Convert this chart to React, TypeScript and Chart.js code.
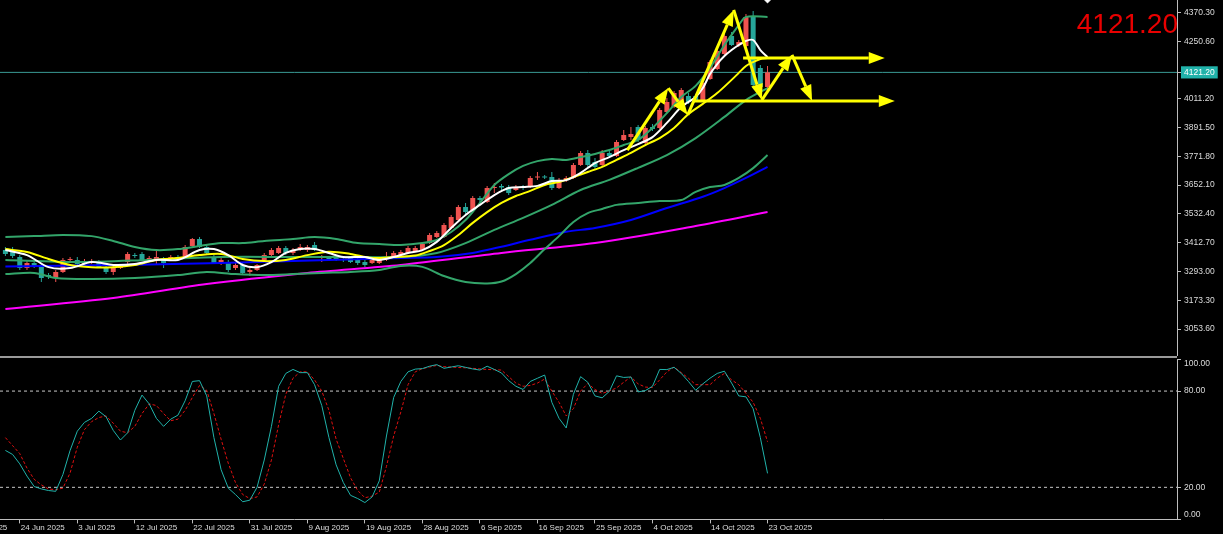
import React, { useEffect, useRef } from 'react';
import { Chart, registerables } from 'chart.js';

Chart.register(...registerables);

// ---------- DATA ----------
// candles: [open, high, low, close], one per bar (bar index = array index)
const ohlc: number[][] = [
  [3382.3, 3394.8, 3357.3, 3365.7], [3374.0, 3394.8, 3349.0, 3357.3], [3353.2, 3361.5, 3299.1, 3307.4],
  [3307.4, 3336.5, 3299.1, 3328.2], [3328.2, 3336.5, 3307.4, 3315.7], [3319.9, 3328.2, 3249.2, 3265.8],
  [3278.3, 3286.6, 3261.7, 3270.0], [3265.8, 3299.1, 3249.2, 3290.8], [3290.8, 3349.0, 3286.6, 3340.7],
  [3340.7, 3353.2, 3332.4, 3344.9], [3340.7, 3353.2, 3319.9, 3324.1], [3324.1, 3344.9, 3315.7, 3336.5],
  [3332.4, 3344.9, 3324.1, 3336.5], [3332.4, 3340.7, 3307.4, 3311.6], [3311.6, 3315.7, 3282.5, 3290.8],
  [3290.8, 3315.7, 3278.3, 3307.4], [3307.4, 3324.1, 3303.3, 3315.7], [3332.4, 3374.0, 3324.1, 3365.7],
  [3361.5, 3369.8, 3349.0, 3357.3], [3365.7, 3374.0, 3336.5, 3340.7], [3340.7, 3357.3, 3336.5, 3349.0],
  [3344.9, 3378.1, 3319.9, 3353.2], [3340.7, 3353.2, 3307.4, 3328.2], [3340.7, 3361.5, 3336.5, 3353.2],
  [3353.2, 3361.5, 3340.7, 3344.9], [3353.2, 3403.1, 3349.0, 3394.8], [3398.9, 3432.2, 3394.8, 3428.1],
  [3428.1, 3436.4, 3390.6, 3394.8], [3394.8, 3403.1, 3361.5, 3369.8], [3353.2, 3361.5, 3324.1, 3328.2],
  [3328.2, 3349.0, 3319.9, 3340.7], [3332.4, 3340.7, 3290.8, 3299.1], [3307.4, 3328.2, 3299.1, 3319.9],
  [3319.9, 3328.2, 3278.3, 3286.6], [3290.8, 3307.4, 3274.1, 3299.1], [3299.1, 3324.1, 3294.9, 3319.9],
  [3340.7, 3369.8, 3332.4, 3361.5], [3361.5, 3390.6, 3357.3, 3382.3], [3369.8, 3398.9, 3365.7, 3390.6],
  [3390.6, 3398.9, 3361.5, 3369.8], [3369.8, 3390.6, 3361.5, 3382.3], [3382.3, 3407.3, 3378.1, 3394.8],
  [3382.3, 3403.1, 3374.0, 3394.8], [3403.1, 3415.6, 3378.1, 3382.3], [3353.2, 3361.5, 3332.4, 3357.3],
  [3349.0, 3357.3, 3336.5, 3344.9], [3349.0, 3357.3, 3336.5, 3340.7], [3344.9, 3353.2, 3332.4, 3340.7],
  [3349.0, 3353.2, 3328.2, 3332.4], [3340.7, 3349.0, 3319.9, 3328.2], [3332.4, 3340.7, 3311.6, 3319.9],
  [3328.2, 3349.0, 3324.1, 3340.7], [3328.2, 3349.0, 3324.1, 3340.7], [3344.9, 3374.0, 3336.5, 3353.2],
  [3353.2, 3378.1, 3349.0, 3369.8], [3361.5, 3382.3, 3357.3, 3374.0], [3369.8, 3398.9, 3365.7, 3390.6],
  [3378.1, 3398.9, 3374.0, 3390.6], [3382.3, 3415.6, 3378.1, 3407.3], [3411.4, 3453.0, 3407.3, 3444.7],
  [3436.4, 3461.3, 3432.2, 3453.0], [3436.4, 3494.6, 3432.2, 3486.3], [3473.8, 3527.9, 3469.7, 3519.6],
  [3507.1, 3569.5, 3502.9, 3561.2], [3561.2, 3577.8, 3532.1, 3540.4], [3548.7, 3606.9, 3544.5, 3598.6],
  [3598.6, 3606.9, 3582.0, 3590.3], [3582.0, 3648.5, 3577.8, 3640.2], [3640.2, 3661.0, 3619.4, 3644.4],
  [3648.5, 3656.9, 3631.9, 3642.3], [3644.4, 3652.7, 3611.1, 3619.4], [3631.9, 3652.7, 3627.7, 3644.4],
  [3644.4, 3652.7, 3631.9, 3640.2], [3644.4, 3690.1, 3640.2, 3681.8], [3683.9, 3706.8, 3673.5, 3686.0],
  [3688.1, 3694.3, 3677.7, 3683.9], [3686.0, 3706.8, 3631.9, 3640.2], [3640.2, 3681.8, 3636.1, 3673.5],
  [3673.5, 3690.1, 3665.2, 3681.8], [3681.8, 3744.2, 3677.7, 3735.9], [3735.9, 3794.1, 3731.7, 3785.8],
  [3785.8, 3798.3, 3727.6, 3735.9], [3748.4, 3765.0, 3719.3, 3727.6], [3735.9, 3798.3, 3731.7, 3785.8],
  [3785.8, 3798.3, 3765.0, 3773.3], [3773.3, 3839.9, 3769.2, 3831.6], [3839.9, 3881.5, 3835.7, 3860.7],
  [3852.4, 3894.0, 3839.9, 3864.9], [3894.0, 3902.3, 3831.6, 3839.9], [3827.4, 3898.1, 3819.1, 3889.8],
  [3894.0, 3906.5, 3877.3, 3885.7], [3889.8, 3973.0, 3885.7, 3964.7], [3956.4, 4014.6, 3952.2, 3998.0],
  [3977.2, 4043.7, 3973.0, 4035.4], [3993.8, 4056.2, 3989.7, 4047.9], [4022.9, 4035.4, 3989.7, 3998.0],
  [4022.9, 4031.3, 3998.0, 4006.3], [4006.3, 4085.3, 4002.1, 4077.0], [4093.7, 4172.7, 4089.5, 4164.4],
  [4135.3, 4218.5, 4131.1, 4210.1], [4197.7, 4285.0, 4193.5, 4272.5], [4272.5, 4289.2, 4230.9, 4235.1],
  [4235.1, 4255.9, 4226.8, 4247.6], [4230.9, 4364.1, 4226.8, 4351.6], [4351.6, 4376.5, 4056.2, 4068.7],
  [4139.4, 4151.9, 4018.8, 4060.4], [4060.4, 4147.7, 4047.9, 4121.2],
];

// indicator lines: [bar index, price]
const fastMA: number[][] = [
  [0, 3382], [3, 3361], [6, 3311], [9, 3307], [12, 3332], [15, 3320], [18, 3324], [21, 3341], [24, 3341],
  [27, 3382], [29, 3386], [31, 3361], [33, 3320], [35, 3311], [37, 3332], [39, 3370], [41, 3386], [43, 3386],
  [45, 3370], [47, 3353], [50, 3353], [52, 3341], [54, 3353], [56, 3370], [58, 3382], [60, 3416], [62, 3474],
  [64, 3528], [66, 3570], [68, 3611], [70, 3640], [72, 3644], [74, 3649], [76, 3669], [78, 3673], [80, 3703],
  [82, 3744], [84, 3769], [86, 3798], [88, 3823], [90, 3852], [92, 3911], [94, 3977], [96, 4019], [97, 4056],
  [98, 4114], [99, 4156], [100, 4189], [101, 4214], [102, 4235], [103, 4252], [104, 4256], [105, 4214], [106, 4185],
];
const slowMA: number[][] = [
  [0, 3386], [3, 3374], [6, 3345], [9, 3320], [12, 3311], [15, 3311], [18, 3320], [21, 3341], [24, 3349],
  [27, 3361], [30, 3366], [33, 3345], [36, 3336], [39, 3341], [42, 3361], [45, 3375], [48, 3366], [51, 3349],
  [54, 3353], [57, 3359], [59, 3378], [61, 3403], [63, 3445], [65, 3495], [67, 3540], [69, 3578], [71, 3607],
  [73, 3628], [75, 3653], [77, 3665], [79, 3686], [81, 3707], [83, 3728], [85, 3757], [87, 3786], [89, 3819],
  [91, 3848], [93, 3890], [95, 3948], [97, 3990], [99, 4035], [101, 4090], [102, 4119], [103, 4148], [104, 4164],
  [105, 4177], [106, 4181],
];
const bandUpper: number[][] = [
  [0, 3436], [4, 3440], [8, 3445], [12, 3440], [15, 3420], [18, 3395], [21, 3382], [24, 3386], [27, 3399],
  [30, 3411], [33, 3411], [36, 3420], [40, 3428], [43, 3436], [46, 3428], [49, 3411], [52, 3407], [55, 3403],
  [58, 3411], [60, 3424], [62, 3457], [64, 3507], [66, 3578], [68, 3653], [70, 3698], [72, 3732], [74, 3752],
  [76, 3761], [78, 3757], [80, 3769], [82, 3782], [84, 3798], [86, 3819], [88, 3840], [90, 3890], [92, 3952],
  [94, 4019], [96, 4065], [98, 4140], [100, 4235], [101, 4277], [102, 4318], [103, 4352], [106, 4352],
];
const bandMid: number[][] = [
  [0, 3341], [10, 3332], [20, 3341], [30, 3353], [40, 3353], [50, 3353], [55, 3353], [60, 3370], [64, 3411],
  [68, 3466], [72, 3516], [76, 3570], [80, 3632], [84, 3674], [88, 3724], [92, 3777], [96, 3848], [100, 3936],
  [103, 4006], [106, 4056],
];
const bandLower: number[][] = [
  [0, 3282], [4, 3287], [7, 3266], [12, 3262], [18, 3266], [24, 3278], [28, 3291], [32, 3282], [36, 3278],
  [40, 3282], [44, 3287], [48, 3291], [52, 3299], [55, 3316], [58, 3312], [61, 3274], [64, 3249], [67, 3243],
  [69, 3251], [71, 3282], [73, 3328], [75, 3386], [77, 3440], [79, 3499], [81, 3536], [83, 3553], [85, 3570],
  [88, 3578], [91, 3586], [94, 3590], [96, 3624], [98, 3644], [100, 3653], [102, 3682], [104, 3723], [106, 3777],
];
const trendMA: number[][] = [
  [0, 3314], [20, 3322], [40, 3336], [55, 3349], [60, 3353], [65, 3370], [69, 3396], [73, 3425], [78, 3458],
  [82, 3474], [87, 3507], [92, 3557], [97, 3604], [100, 3640], [103, 3682], [106, 3728],
];
const longMA: number[][] = [
  [0, 3137], [15, 3183], [28, 3241], [42, 3287], [55, 3320], [69, 3370], [82, 3411], [96, 3482], [106, 3540],
];

// stochastic %K and %D, one per bar
const stochK: number[] = [
  43, 40.5, 34.6, 27, 20.5, 19, 18, 17.5, 28, 43,
  55, 60.5, 63, 67.5, 64, 55.5, 49.5, 54, 68, 77.5,
  72, 63, 58, 62.5, 65, 74, 86, 86.5, 77, 51,
  31, 19.5, 15.5, 11, 12, 20, 37, 58, 83, 91,
  93.5, 91.5, 91.5, 84, 71, 51, 34, 23, 15, 13,
  10.5, 14, 24, 52, 76, 86, 92, 93.7, 94, 95.5,
  96.5, 94.2, 95, 95.8, 94.8, 93.8, 93.1, 95.5, 93.5, 91.3,
  86.5, 83, 81, 86, 88, 90, 73, 63, 57, 78,
  89, 85.5, 77, 75.8, 79.8, 89.5, 88.5, 88.8, 79.5, 80.3,
  83, 93.5, 93.4, 94.8, 91, 86, 80.5, 84.5, 88, 91,
  92.4, 85, 77, 76.4, 69, 51, 28.7,
];
const stochD: number[] = [
  51, 46, 41, 32, 25, 21.5, 19, 18.5, 19.5, 29,
  45, 56, 61, 63.5, 64.5, 60, 55, 54, 58, 66,
  72, 71, 66, 61.5, 62.5, 68, 76, 83.5, 80.5, 66,
  50, 35, 23, 15.5, 13, 14, 22, 37, 59, 78,
  88, 92, 92, 87, 80, 68, 50, 38, 26, 18,
  13.5, 14.5, 17, 33, 52, 67, 84, 92, 94, 95,
  96, 95.2, 95, 94.7, 94.5, 94.2, 93.8, 93.5, 93.3, 93.1,
  89, 85, 83, 83.5, 85, 87.5, 80, 73, 64.5, 69,
  80, 84.8, 81, 78.6, 80, 82, 85.5, 88.9, 84.5, 82.5,
  82.2, 87, 92, 95, 91.5, 88, 84, 84, 84, 88,
  91, 87, 84, 78.6, 73, 63, 48.4,
];
const stochLevels: number[] = [80, 20];

// axes
const dateTickIdx: number[] = [-6, 2, 10, 18, 26, 34, 42, 50, 58, 66, 74, 82, 90, 98, 106];
const dateLabels: string[] = [
  '15 Jun 2025', '24 Jun 2025', '3 Jul 2025', '12 Jul 2025', '22 Jul 2025', '31 Jul 2025', '9 Aug 2025',
  '19 Aug 2025', '28 Aug 2025', '6 Sep 2025', '16 Sep 2025', '25 Sep 2025', '4 Oct 2025', '14 Oct 2025', '23 Oct 2025',
];
const priceTicks: number[] = [3053.6, 3173.3, 3293.0, 3412.7, 3532.4, 3652.1, 3771.8, 3891.5, 4011.2, 4250.6, 4370.3];
const stochTicks: number[] = [100, 80, 20, 0];
const currentPrice = 4121.2;
const headline = '4121.20';

// drawn annotations (bar index, price)
const zigzag: number[][] = [
  [86.5, 3798], [92.2, 4056], [94.9, 3944], [101.3, 4381], [105.2, 4006], [109.4, 4194], [112.2, 4002],
];
const levelArrows: number[][] = [
  // [start index, end index, price]
  [102.6, 122.3, 4181],
  [95.6, 123.7, 4002],
];
const marker: number[] = [106, 4431];

// ---------- STYLE ----------
const X_MIN = -0.751;
const X_MAX = 162.95;
const P_MAX = 4422.3;
const P_MIN = 2941.3;
const UP = '#ef5350';
const DOWN = '#26a69a';
const AXIS = '#bdbdbd';
const TEXT = '#dcdcdc';
const FONT = '"Liberation Sans", Arial, sans-serif';

const toXY = (arr: number[][]) => arr.map((p) => ({ x: p[0], y: p[1] }));

const lineDs = (data: number[][], color: string, order: number, width = 2) => ({
  type: 'line',
  data: toXY(data),
  borderColor: color,
  borderWidth: width,
  pointRadius: 0,
  tension: 0.3,
  order,
});

const fixedY = (w: number) => (s: any) => {
  s.width = w;
  s.paddingTop = 0;
  s.paddingBottom = 0;
};

const arrowPlugin = {
  id: 'mtArrows',
  afterDatasetsDraw(chart: any) {
    const { ctx, scales } = chart;
    const sx = scales.x;
    const sy = scales.y;
    ctx.save();
    ctx.strokeStyle = '#ffff00';
    ctx.fillStyle = '#ffff00';
    ctx.lineWidth = 3;
    const arrow = (x1: number, y1: number, x2: number, y2: number) => {
      const a = Math.atan2(y2 - y1, x2 - x1);
      const L = 16;
      const W = 6;
      const bx = x2 - L * Math.cos(a);
      const by = y2 - L * Math.sin(a);
      ctx.beginPath();
      ctx.moveTo(x1, y1);
      ctx.lineTo(bx, by);
      ctx.stroke();
      ctx.beginPath();
      ctx.moveTo(x2, y2);
      ctx.lineTo(bx + W * Math.sin(a), by - W * Math.cos(a));
      ctx.lineTo(bx - W * Math.sin(a), by + W * Math.cos(a));
      ctx.closePath();
      ctx.fill();
    };
    for (let k = 0; k < zigzag.length - 1; k++) {
      arrow(
        sx.getPixelForValue(zigzag[k][0]), sy.getPixelForValue(zigzag[k][1]),
        sx.getPixelForValue(zigzag[k + 1][0]), sy.getPixelForValue(zigzag[k + 1][1]),
      );
    }
    for (const l of levelArrows) {
      const yy = sy.getPixelForValue(l[2]);
      arrow(sx.getPixelForValue(l[0]), yy, sx.getPixelForValue(l[1]), yy);
    }
    ctx.font = '28px ' + FONT;
    ctx.fillStyle = '#e80000';
    ctx.textAlign = 'right';
    ctx.textBaseline = 'alphabetic';
    ctx.fillText(headline, chart.chartArea.right + 1, 33);
    ctx.restore();
  },
};

export default function App() {
  const aRef = useRef<HTMLCanvasElement>(null);
  const bRef = useRef<HTMLCanvasElement>(null);

  useEffect(() => {
    const candleColors = ohlc.map((c) => (c[3] >= c[0] ? UP : DOWN));

    const priceChart = new Chart(aRef.current as HTMLCanvasElement, {
      type: 'bar',
      data: {
        datasets: [
          {
            type: 'line',
            data: [{ x: X_MIN, y: currentPrice }, { x: X_MAX, y: currentPrice }],
            borderColor: '#3a9a95',
            borderWidth: 1,
            pointRadius: 0,
            order: 200,
          },
          {
            type: 'bar',
            data: ohlc.map((c, i) => ({ x: i, y: [c[2], c[1]] })),
            backgroundColor: candleColors,
            barThickness: 1,
            grouped: false,
            inflateAmount: 0,
            order: 101,
          },
          {
            type: 'bar',
            data: ohlc.map((c, i) => ({ x: i, y: [c[0], c[3]] })),
            backgroundColor: candleColors,
            barThickness: 5,
            minBarLength: 1,
            grouped: false,
            inflateAmount: 0,
            order: 100,
          },
          lineDs(longMA, '#ff00ff', 60),
          lineDs(trendMA, '#0000ff', 59),
          lineDs(bandLower, '#33a56a', 58),
          lineDs(bandMid, '#33a56a', 57),
          lineDs(bandUpper, '#33a56a', 56),
          lineDs(slowMA, '#ffff00', 55),
          lineDs(fastMA, '#ffffff', 54),
          {
            type: 'line',
            data: [{ x: marker[0], y: marker[1] }],
            showLine: false,
            pointStyle: 'rectRot',
            pointRadius: 5,
            pointBackgroundColor: '#ffffff',
            pointBorderColor: '#ffffff',
            clip: false,
            order: 1,
          },
        ] as any,
      },
      options: {
        animation: false,
        responsive: false,
        maintainAspectRatio: false,
        events: [],
        layout: { padding: 0, autoPadding: false },
        plugins: { legend: { display: false }, tooltip: { enabled: false } },
        scales: {
          x: { type: 'linear', min: X_MIN, max: X_MAX, display: false, offset: false, grid: { offset: false } },
          y: {
            type: 'linear',
            position: 'right',
            min: P_MIN,
            max: P_MAX,
            beginAtZero: false,
            afterFit: fixedY(46),
            afterBuildTicks: (s: any) => {
              s.ticks = [...priceTicks, currentPrice].map((v) => ({ value: v }));
            },
            ticks: {
              autoSkip: false,
              padding: 3,
              font: { family: FONT, size: 8.5 },
              color: (c: any) => (c.tick && c.tick.value === currentPrice ? '#ffffff' : TEXT),
              showLabelBackdrop: (c: any) => !!(c.tick && c.tick.value === currentPrice),
              backdropColor: '#20b2aa',
              backdropPadding: { top: 1, bottom: 1, left: 3, right: 3 },
              callback: (v: any) => Number(v).toFixed(2),
            },
            grid: { drawOnChartArea: false, drawTicks: true, tickLength: 4, color: AXIS },
            border: { display: true, color: AXIS },
          },
        },
      } as any,
      plugins: [arrowPlugin],
    });

    const stochChart = new Chart(bRef.current as HTMLCanvasElement, {
      type: 'line',
      data: {
        datasets: [
          ...stochLevels.map((lv) => ({
            data: [{ x: X_MIN, y: lv }, { x: X_MAX, y: lv }],
            borderColor: '#c8c8c8',
            borderWidth: 1,
            borderDash: [3, 3],
            pointRadius: 0,
            order: 10,
          })),
          {
            data: stochD.map((v, i) => ({ x: i, y: v })),
            borderColor: '#e01010',
            borderWidth: 1,
            borderDash: [3, 2],
            pointRadius: 0,
            order: 2,
          },
          {
            data: stochK.map((v, i) => ({ x: i, y: v })),
            borderColor: '#20b2aa',
            borderWidth: 1,
            pointRadius: 0,
            order: 1,
          },
        ] as any,
      },
      options: {
        animation: false,
        responsive: false,
        maintainAspectRatio: false,
        events: [],
        layout: { padding: { top: 1, left: 0, right: 0, bottom: 0 }, autoPadding: false },
        plugins: { legend: { display: false }, tooltip: { enabled: false } },
        scales: {
          x: {
            type: 'linear',
            min: X_MIN,
            max: X_MAX,
            offset: false,
            afterBuildTicks: (s: any) => {
              s.ticks = dateTickIdx.map((v) => ({ value: v }));
            },
            afterFit: (s: any) => {
              s.height = 14.6;
              s.paddingLeft = 0;
              s.paddingRight = 0;
            },
            ticks: {
              autoSkip: false,
              maxRotation: 0,
              minRotation: 0,
              align: 'start',
              labelOffset: 1,
              padding: 0,
              font: { family: FONT, size: 8 },
              color: TEXT,
              callback: (_v: any, i: number) => dateLabels[i],
            },
            grid: { drawOnChartArea: false, drawTicks: true, tickLength: 4, color: AXIS, offset: false },
            border: { display: true, color: AXIS },
          },
          y: {
            type: 'linear',
            position: 'right',
            min: 0,
            max: 100,
            afterFit: fixedY(46),
            afterBuildTicks: (s: any) => {
              s.ticks = stochTicks.map((v) => ({ value: v }));
            },
            ticks: {
              autoSkip: false,
              padding: 3,
              font: { family: FONT, size: 8.5 },
              color: TEXT,
              callback: (v: any) => {
                const t = Number(v).toFixed(2);
                if (v === 100) return ['', t];
                if (v === 0) return [t, ''];
                return t;
              },
            },
            grid: { drawOnChartArea: false, drawTicks: true, tickLength: 4, color: AXIS },
            border: { display: true, color: AXIS },
          },
        },
      } as any,
    });

    return () => {
      priceChart.destroy();
      stochChart.destroy();
    };
  }, []);

  return (
    <div style={{ position: 'fixed', left: 0, top: 0, width: 1223, height: 534, background: '#000000', overflow: 'hidden' }}>
      <div style={{ position: 'absolute', left: 0, top: 0, width: 1223, height: 356 }}>
        <canvas ref={aRef} width={1223} height={356} style={{ display: 'block' }} />
      </div>
      <div style={{ position: 'absolute', left: 0, top: 356, width: 1177, height: 2, background: '#9a9a9a' }} />
      <div style={{ position: 'absolute', left: 0, top: 358, width: 1223, height: 176 }}>
        <canvas ref={bRef} width={1223} height={176} style={{ display: 'block' }} />
      </div>
    </div>
  );
}
